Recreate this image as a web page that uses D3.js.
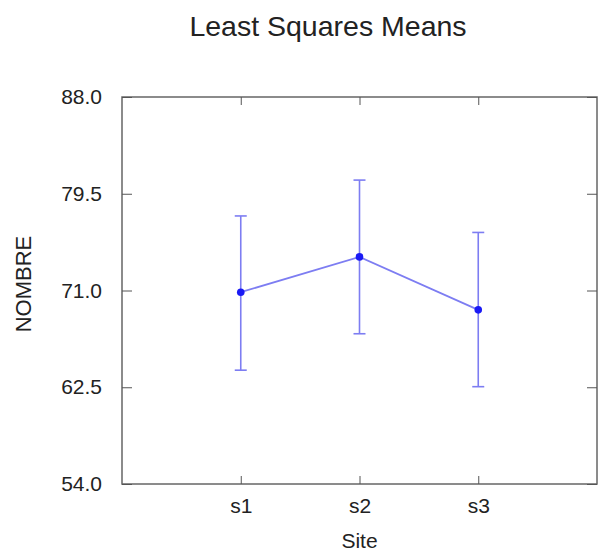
<!DOCTYPE html>
<html>
<head>
<meta charset="utf-8">
<script src="https://d3js.org/d3.v7.min.js"></script>
<style>
body { margin: 0; background: #fff; }
text { font-family: "Liberation Sans", Arial, sans-serif; fill: #222; }
</style>
</head>
<body>
<div id="chart"></div>
<script>
// values
var sites = ["s1", "s2", "s3"];
var means = [70.85, 73.95, 69.3];
var lower = [64.0, 67.2, 62.55];
var upper = [77.55, 80.7, 76.1];
var yTicks = [54.0, 62.5, 71.0, 79.5, 88.0];

var W = 598, H = 553;
var margin = {top: 97, right: 1, bottom: 69, left: 122},
    width = W - margin.left - margin.right,
    height = H - margin.top - margin.bottom;

var svg = d3.select("#chart").append("svg")
    .attr("width", W).attr("height", H);

svg.append("text")
  .attr("x", 328).attr("y", 36)
  .attr("text-anchor", "middle")
  .style("font-size", "28.5px")
  .text("Least Squares Means");

var g = svg.append("g")
  .attr("transform", "translate(" + margin.left + "," + margin.top + ")");

var x = d3.scaleLinear().domain([0, 4]).range([0, width]);
var y = d3.scaleLinear().domain([54, 88]).range([height, 0]);

var data = sites.map((s, i) => ({site: s, pos: i + 1, m: means[i], lo: lower[i], hi: upper[i]}));

// frame
g.append("rect")
  .attr("width", width).attr("height", height)
  .attr("fill", "none").attr("stroke", "#666").attr("stroke-width", 1.5);

// bottom axis, inward ticks
var xa = g.append("g").attr("transform", "translate(0," + height + ")")
  .call(d3.axisBottom(x).tickValues([1, 2, 3]).tickFormat(d => sites[d - 1]).tickSizeInner(-8).tickSizeOuter(0).tickPadding(14));
xa.select(".domain").remove();
xa.selectAll("line").attr("stroke", "#555");
xa.selectAll("text").style("font-size", "21px").attr("fill", "#222");

// top mirror ticks
var xt = g.append("g")
  .call(d3.axisTop(x).tickValues([1, 2, 3]).tickFormat("").tickSizeInner(-8).tickSizeOuter(0));
xt.select(".domain").remove();
xt.selectAll("line").attr("stroke", "#555");

// left axis
var ya = g.append("g")
  .call(d3.axisLeft(y).tickValues(yTicks).tickFormat(d3.format(".1f")).tickSizeInner(-10).tickSizeOuter(0).tickPadding(20));
ya.select(".domain").remove();
ya.selectAll("line").attr("stroke", "#555");
ya.selectAll("text").style("font-size", "21px").attr("fill", "#222");

// right mirror ticks
var yr = g.append("g").attr("transform", "translate(" + width + ",0)")
  .call(d3.axisRight(y).tickValues(yTicks).tickFormat("").tickSizeInner(-10).tickSizeOuter(0));
yr.select(".domain").remove();
yr.selectAll("line").attr("stroke", "#555");

var barColor = "#7d7df2";

// error bars
var eb = g.selectAll(".eb").data(data).enter().append("g");
eb.append("line")
  .attr("x1", d => x(d.pos)).attr("x2", d => x(d.pos))
  .attr("y1", d => y(d.lo)).attr("y2", d => y(d.hi))
  .attr("stroke", barColor).attr("stroke-width", 1.6);
eb.append("line")
  .attr("x1", d => x(d.pos) - 6).attr("x2", d => x(d.pos) + 6)
  .attr("y1", d => y(d.hi)).attr("y2", d => y(d.hi))
  .attr("stroke", barColor).attr("stroke-width", 1.6);
eb.append("line")
  .attr("x1", d => x(d.pos) - 6).attr("x2", d => x(d.pos) + 6)
  .attr("y1", d => y(d.lo)).attr("y2", d => y(d.lo))
  .attr("stroke", barColor).attr("stroke-width", 1.6);

// mean line
g.append("path")
  .datum(data)
  .attr("fill", "none").attr("stroke", barColor).attr("stroke-width", 1.8)
  .attr("d", d3.line().x(d => x(d.pos)).y(d => y(d.m)));

g.selectAll(".pt").data(data).enter().append("circle")
  .attr("cx", d => x(d.pos)).attr("cy", d => y(d.m)).attr("r", 3.8)
  .attr("fill", "#1a1af5");

// axis titles
svg.append("text")
  .attr("x", margin.left + x(2)).attr("y", 548)
  .attr("text-anchor", "middle").style("font-size", "21px")
  .text("Site");

svg.append("text")
  .attr("transform", "translate(31,284) rotate(-90)")
  .attr("text-anchor", "middle").style("font-size", "22px")
  .text("NOMBRE");
</script>
</body>
</html>
